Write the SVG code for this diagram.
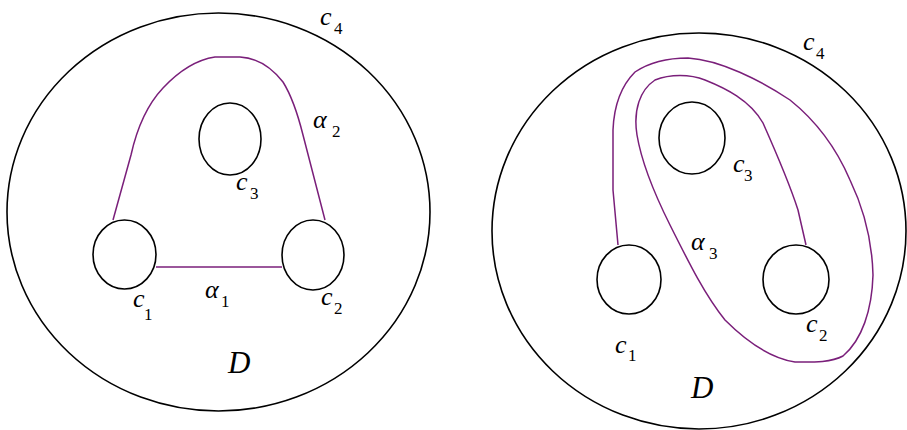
<svg xmlns="http://www.w3.org/2000/svg" width="907" height="430" viewBox="0 0 907 430">
<style>
.b{fill:none;stroke:#000;stroke-width:1.6}
.p{fill:none;stroke:#7a1f7a;stroke-width:1.5;stroke-linejoin:round}
.t{font-family:"Liberation Serif",serif;font-style:italic;font-size:26px;fill:#000}
.s{font-family:"Liberation Serif",serif;font-size:17px;fill:#000}
.d{font-family:"Liberation Serif",serif;font-style:italic;font-size:31px;fill:#000}
</style>
<rect width="907" height="430" fill="#fff"/>
<g id="left">
<g id="L-c4"><ellipse class="b" cx="218.5" cy="212" rx="211.5" ry="199"/><text class="t" x="320" y="25">c</text><text class="s" x="334" y="34">4</text></g>
<g id="L-c1"><ellipse class="b" cx="124.5" cy="254.5" rx="31.5" ry="34.5"/><text class="t" x="133" y="307">c</text><text class="s" x="144" y="320">1</text></g>
<g id="L-c2"><ellipse class="b" cx="313" cy="255" rx="31" ry="35"/><text class="t" x="321" y="305">c</text><text class="s" x="334" y="314">2</text></g>
<g id="L-c3"><ellipse class="b" cx="230" cy="139" rx="31" ry="36"/><text class="t" x="236" y="190">c</text><text class="s" x="250" y="199">3</text></g>
<g id="L-D"><text class="d" x="228" y="373">D</text></g>
</g>
<g id="right">
<g id="R-c4"><ellipse class="b" cx="699" cy="231" rx="207" ry="198"/><text class="t" x="803" y="50">c</text><text class="s" x="816" y="59">4</text></g>
<g id="R-c1"><ellipse class="b" cx="629" cy="279.5" rx="32" ry="34.5"/><text class="t" x="615" y="353">c</text><text class="s" x="628" y="361">1</text></g>
<g id="R-c2"><ellipse class="b" cx="796" cy="279.5" rx="33" ry="34.5"/><text class="t" x="806" y="332">c</text><text class="s" x="819" y="341">2</text></g>
<g id="R-c3"><ellipse class="b" cx="692" cy="138" rx="33" ry="36"/><text class="t" x="733" y="172">c</text><text class="s" x="744" y="181">3</text></g>
<g id="R-D"><text class="d" x="691" y="398">D</text></g>
</g>
<g id="connectors">
<path class="p" d="M156 267 H282"/>
<text class="t" x="205" y="298">α</text><text class="s" x="221" y="307">1</text>
<path class="p" d="M113 220 L131 155 C137 128 147 105 163 88 C178 72 195 60 215 57 L240 57 C258 58 272 68 283 82 C293 98 298 115 303 135 L325 220"/>
<text class="t" x="313" y="128">α</text><text class="s" x="332" y="137">2</text>
<path class="p" d="M618 245 L613 190 L613 130 C614 105 622 85 635 72 C650 62 668 58 688 58 C720 60 760 80 790 100 C815 120 835 145 850 180 C862 205 872 235 873 275 C872 310 862 340 843 356 C830 363 810 362 795 362 C770 358 745 340 725 320 C705 295 690 265 670 225 C655 195 642 165 637 135 C633 110 640 90 655 80 C670 74 690 74 705 80 C725 88 750 100 763 123 C775 150 790 185 798 210 L806 245"/>
<text class="t" x="691" y="250">α</text><text class="s" x="709" y="259">3</text>
</g>
</svg>
